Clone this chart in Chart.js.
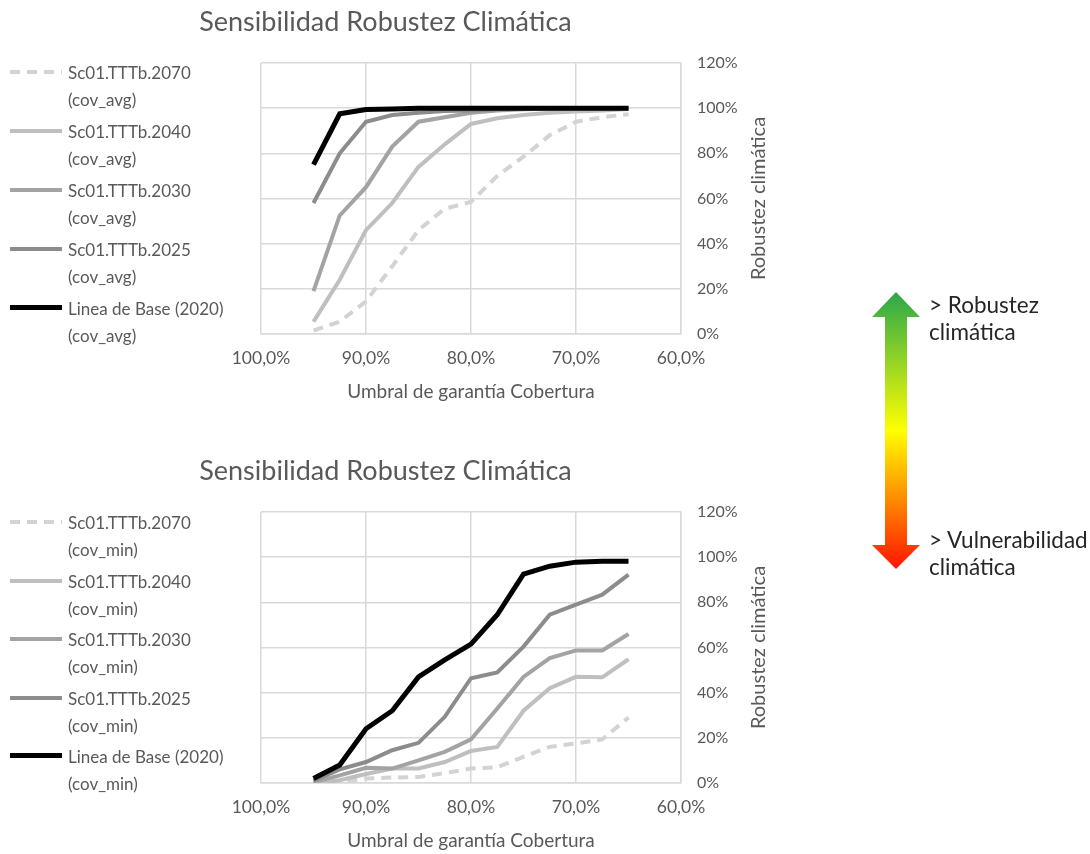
<!DOCTYPE html>
<html>
<head>
<meta charset="utf-8">
<script src="https://cdn.jsdelivr.net/npm/chart.js@4"></script>
<style>
    body { margin: 0; background: #fff; overflow: hidden; font-family: Lato, "Open Sans", sans-serif; }
    .box { position: absolute; left: 0; width: 780px; height: 404px; }
    .legend { position: absolute; left: 0; width: 240px; color: #595959; font-size: 17px; }
    .item { position: absolute; left: 0; height: 54px; }
    .item .mark { position: absolute; left: 10px; top: 11px; width: 52px; height: 4px; }
    .item .txt { position: absolute; left: 68px; top: 0; line-height: 27px; white-space: nowrap; }
    .note { position: absolute; left: 929px; font-size: 22.5px; line-height: 27px; color: #262626; }
</style>
</head>
<body>

<div class="box" style="top:0"><canvas id="chartAvg" width="780" height="404"></canvas></div>
<div class="box" style="top:449px"><canvas id="chartMin" width="780" height="404"></canvas></div>
<div class="legend" id="legendAvg" style="top:59px"></div>
<div class="legend" id="legendMin" style="top:509px"></div>

<svg style="position:absolute;left:0;top:0" width="1090" height="854">
    <defs>
        <linearGradient id="grad" x1="0" y1="292" x2="0" y2="569" gradientUnits="userSpaceOnUse">
            <stop offset="0" stop-color="#2aa84a"/>
            <stop offset="0.5" stop-color="#ffff00"/>
            <stop offset="1" stop-color="#ff1400"/>
        </linearGradient>
    </defs>
    <polygon fill="url(#grad)" points="896,292 920,317 907,317 907,545 920,545 896,569 872,545 885,545 885,317 872,317"/>
</svg>
<div class="note" style="top:291px">&gt; Robustez<br>climática</div>
<div class="note" style="top:526px">&gt; Vulnerabilidad<br>climática</div>

<script>
// Umbral de garantía (eje x, invertido)
const umbral = [95, 92.5, 90, 87.5, 85, 82.5, 80, 77.5, 75, 72.5, 70, 67.5, 65];

// Robustez climática - cov_avg
const base_avg  = [75, 97.5, 99.4, 99.6, 100, 100, 100, 100, 100, 100, 100, 100, 100];
const s2025_avg = [58, 80, 94, 97, 98, 98.7, 99, 99.5, 99.8, 100, 100, 100, 100];
const s2030_avg = [19, 52.5, 65, 83, 94, 96, 98, 99, 99.5, 99.8, 100, 100, 100];
const s2040_avg = [5.5, 24, 46, 58, 74, 84, 93, 95.5, 97, 98, 98.5, 99, 99.6];
const s2070_avg = [1.5, 5.5, 14.5, 30, 46, 55.5, 58.5, 70, 78.5, 88, 94, 96, 97.3];

// Robustez climática - cov_min
const base_min  = [2, 8, 24, 32, 47, 54.5, 61.5, 74.5, 92.5, 96, 97.8, 98.2, 98.2];
const s2025_min = [1, 6, 9.3, 14.5, 17.8, 29.3, 46.4, 49, 60.4, 74.5, 79, 83.4, 92.3];
const s2030_min = [0.4, 3.4, 6.7, 6.4, 10, 13.8, 19.3, 33, 47, 55.3, 58.7, 58.7, 66];
const s2040_min = [0, 1.2, 4, 6.4, 6.4, 9.3, 14.2, 16, 32, 42, 47, 46.8, 54.8];
const s2070_min = [0, 0.4, 2, 2.4, 2.7, 4.4, 6.4, 7, 11.6, 16, 17.5, 19.3, 29];

const seriesNames = ["Sc01.TTTb.2070", "Sc01.TTTb.2040", "Sc01.TTTb.2030", "Sc01.TTTb.2025", "Linea de Base (2020)"];
const colors = ["#d3d3d3", "#bfbfbf", "#a3a3a3", "#8c8c8c", "#000000"];

const FONT = "Lato, 'Open Sans', sans-serif";
const GREY = "#595959";
const GRID = "#d9d9d9";

function points(values) {
    return values.map((v, i) => ({ x: umbral[i], y: v }));
}

// título del eje y (girado, de abajo hacia arriba)
const yTitle = {
    id: "yTitle",
    afterDraw(chart) {
        const ctx = chart.ctx;
        const sc = chart.scales.y;
        const a = chart.chartArea;
        ctx.save();
        ctx.translate(sc.right - 12, (a.top + a.bottom) / 2);
        ctx.rotate(-Math.PI / 2);
        ctx.font = "20px " + FONT;
        ctx.fillStyle = GREY;
        ctx.textAlign = "center";
        ctx.textBaseline = "middle";
        ctx.fillText("Robustez climática", 0, 0);
        ctx.restore();
    }
};

function makeChart(id, series) {
    const datasets = series.map((vals, i) => ({
        label: seriesNames[i],
        data: points(vals),
        xAxisID: "x",
        yAxisID: "y",
        borderColor: colors[i],
        backgroundColor: colors[i],
        borderWidth: i == 4 ? 5 : 4,
        borderDash: i == 0 ? [10, 7] : [],
        pointRadius: 0,
        tension: 0,
        fill: false,
        order: 4 - i
    }));

    new Chart(id, {
        type: "line",
        data: { datasets: datasets },
        plugins: [yTitle],
        options: {
            responsive: false,
            animation: false,
            devicePixelRatio: 1,
            layout: { padding: { left: 0, right: 9, top: 0, bottom: 0 } },
            plugins: {
                legend: { display: false },
                tooltip: { enabled: false },
                title: {
                    display: true,
                    text: "Sensibilidad Robustez Climática",
                    color: GREY,
                    font: { family: FONT, size: 27, weight: "normal" },
                    padding: { top: 6, bottom: 24.6 }
                }
            },
            scales: {
                // eje vacío que reserva el espacio de la leyenda
                space: {
                    axis: "y",
                    position: "left",
                    min: 0,
                    max: 1,
                    afterFit: (s) => { s.width = 261; },
                    ticks: { display: false },
                    grid: { display: false },
                    border: { display: false }
                },
                x: {
                    type: "linear",
                    reverse: true,
                    min: 60,
                    max: 100,
                    afterFit: (s) => { s.height = 70; },
                    ticks: {
                        stepSize: 5,
                        autoSkip: false,
                        maxRotation: 0,
                        padding: 13.5,
                        color: GREY,
                        font: { family: FONT, size: 17.5 },
                        callback: (v) => v % 10 == 0 ? v.toFixed(1).replace(".", ",") + "%" : ""
                    },
                    grid: {
                        drawTicks: false,
                        color: (c) => c.tick && c.tick.value % 10 == 0 ? GRID : "rgba(0,0,0,0)",
                        lineWidth: 1.5
                    },
                    border: { color: GRID, width: 1.5 },
                    title: {
                        display: true,
                        text: "Umbral de garantía Cobertura",
                        color: GREY,
                        font: { family: FONT, size: 19 },
                        padding: { top: 0, bottom: 0.6 }
                    }
                },
                y: {
                    position: "right",
                    min: 0,
                    max: 120,
                    afterFit: (s) => { s.width = 90; },
                    ticks: {
                        stepSize: 20,
                        padding: 16,
                        color: GREY,
                        font: { family: FONT, size: 16 },
                        callback: (v) => v + "%"
                    },
                    grid: { drawTicks: false, color: GRID, lineWidth: 1.5 },
                    border: { color: GRID, width: 1.5 }
                }
            }
        }
    });
}

// leyenda a la izquierda, en dos líneas por serie
function makeLegend(id, suffix, step) {
    const box = document.getElementById(id);
    seriesNames.forEach((name, i) => {
        const item = document.createElement("div");
        item.className = "item";
        item.style.top = (step * i) + "px";
        const mark = document.createElement("div");
        mark.className = "mark";
        if (i == 0) {
            mark.style.background = "repeating-linear-gradient(to right, " + colors[i] + " 0 10px, transparent 10px 17px)";
        } else {
            mark.style.background = colors[i];
        }
        if (i == 4) { mark.style.height = "5px"; mark.style.top = "10px"; }
        const txt = document.createElement("div");
        txt.className = "txt";
        txt.innerHTML = name + "<br>(" + suffix + ")";
        item.appendChild(mark);
        item.appendChild(txt);
        box.appendChild(item);
    });
}

document.addEventListener("DOMContentLoaded", function () {
    makeChart("chartAvg", [s2070_avg, s2040_avg, s2030_avg, s2025_avg, base_avg]);
    makeChart("chartMin", [s2070_min, s2040_min, s2030_min, s2025_min, base_min]);
    makeLegend("legendAvg", "cov_avg", 59);
    makeLegend("legendMin", "cov_min", 58.5);
});
</script>
</body>
</html>
